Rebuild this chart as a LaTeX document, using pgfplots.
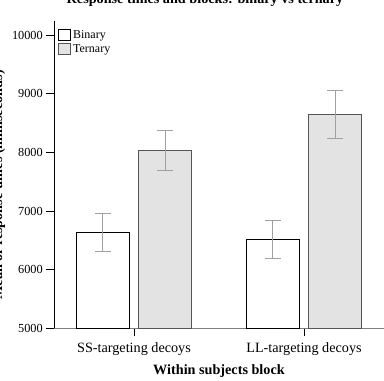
\documentclass[border=0pt]{standalone}
\usepackage{fontspec}
\setmainfont{Liberation Serif}
\usepackage{pgfplots}
\pgfplotsset{compat=1.18}
\definecolor{ternfill}{RGB}{227,227,227}
\definecolor{ternedge}{RGB}{85,85,85}
\definecolor{errc}{RGB}{160,160,160}
\definecolor{xaxc}{RGB}{125,125,125}
\begin{document}
\begin{tikzpicture}[x=1pt,y=1pt]
\begin{axis}[
  at={(54pt,52.5pt)}, anchor=south west,
  scale only axis, width=330pt, height=307.5pt,
  xmin=-0.4706, xmax=1.4706, ymin=5000, ymax=10240,
  axis x line=bottom, axis y line=left,
  x axis line style={-, color=xaxc, line width=0.8pt},
  y axis line style={-, color=black, line width=0.8pt},
  xtick={0,1}, xticklabels={SS-targeting decoys, LL-targeting decoys},
  ytick={5000,6000,7000,8000,9000,10000},
  scaled y ticks=false,
  tick align=outside, major tick length=8pt,
  tick style={black, line width=0.8pt},
  /pgf/number format/assume math mode=true,
  /pgf/number format/1000 sep={},
  yticklabel style={font=\fontsize{12.3}{14}\selectfont, inner sep=1pt, xshift=-2pt},
  xticklabel style={font=\fontsize{14.2}{17}\selectfont, yshift=-2.5pt},
  every axis title shift=0pt,
  title={Response times and blocks: binary vs ternary},
  title style={at={(axis description cs:0.4576,1.0553)}, anchor=base, yshift=0pt, font=\bfseries\fontsize{14.2}{17}\selectfont},
  xlabel={Within subjects block},
  xlabel style={at={(axis description cs:0.5,-0.1512)}, anchor=base, font=\bfseries\fontsize{14.2}{17}\selectfont},
  ylabel={Mean of response times (milliseconds)},
  ylabel style={at={(axis description cs:-0.157,0.467)}, anchor=base, font=\bfseries\fontsize{14.2}{17}\selectfont},
  legend image code/.code={\draw[#1] (0pt,-5.5pt) rectangle (12pt,5.5pt);},
  legend style={at={(axis description cs:0.012,0.977)}, anchor=north west, draw=none, fill=none, inner sep=0pt,
    font=\fontsize{12}{14}\selectfont, row sep=1pt, cells={anchor=west}},
]
\addplot[ybar, bar width=53pt, bar shift=0pt, fill=white, draw=black, line width=0.8pt,
  error bars/.cd, y dir=both, y explicit,
  error bar style={errc, line width=1pt},
  error mark options={errc, rotate=90, mark size=8pt, line width=1pt}]
  coordinates {(-0.185,6633) +- (0,320) (0.815,6521) +- (0,326)};
\addlegendentry{Binary}
\addplot[ybar, bar width=53pt, bar shift=0pt, fill=ternfill, draw=ternedge, line width=1pt,
  error bars/.cd, y dir=both, y explicit,
  error bar style={errc, line width=1pt},
  error mark options={errc, rotate=90, mark size=8pt, line width=1pt}]
  coordinates {(0.185,8031) +- (0,338) (1.185,8645) +- (0,415)};
\addlegendentry{Ternary}
\end{axis}
\pgfresetboundingbox
\useasboundingbox (0,0) rectangle (384,381);
\end{tikzpicture}
\end{document}
